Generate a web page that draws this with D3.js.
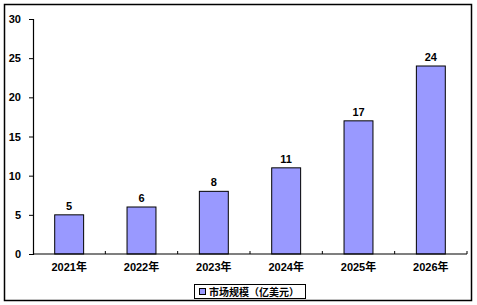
<!DOCTYPE html>
<html><head><meta charset="utf-8">
<script src="https://cdn.jsdelivr.net/npm/d3@7"></script>
<style>body{margin:0;background:#fff}svg{display:block}</style>
</head><body>
<script>
const categories = ["2021年","2022年","2023年","2024年","2025年","2026年"];
const values = [5,6,8,11,17,24];
const yTicks = [0,5,10,15,20,25,30];
const seriesName = "市场规模（亿美元）";

const W=477,H=305;
const svg=d3.select("body").append("svg").attr("width",W).attr("height",H);
svg.append("rect").attr("x",4.5).attr("y",4.5).attr("width",467).attr("height",296)
  .attr("fill","#fff").attr("stroke","#000").attr("stroke-width",1.5);

const x0=33,x1=467,yTop=19,yBot=254;
const x=d3.scaleBand().domain(categories).range([x0,x1]).paddingInner(0.6).paddingOuter(0.3);
const y=d3.scaleLinear().domain([0,30]).range([yBot,yTop]);
const font='"Liberation Sans", Arial, "Noto Sans CJK SC", sans-serif';

// bars
svg.selectAll("rect.bar").data(values).enter().append("rect")
  .attr("x",(d,i)=>x(categories[i])).attr("y",d=>y(d))
  .attr("width",x.bandwidth()).attr("height",d=>y(0)-y(d))
  .attr("fill","#9999FF").attr("stroke","#000").attr("stroke-width",1);

// value labels
svg.selectAll("text.val").data(values).enter().append("text")
  .attr("x",(d,i)=>x(categories[i])+x.bandwidth()/2).attr("y",d=>y(d)-5)
  .attr("text-anchor","middle").attr("font-family",font).attr("font-weight","bold")
  .attr("font-size",11).text(d=>d);

// y axis
const ya=svg.append("g").attr("transform",`translate(${x0},0)`)
  .call(d3.axisLeft(y).tickValues(yTicks).tickSize(4).tickPadding(8));
ya.select(".domain").attr("stroke","#000").attr("stroke-width",1.2);
ya.selectAll(".tick line").attr("stroke","#000");
ya.selectAll("text").attr("font-family",font).attr("font-weight","bold").attr("font-size",11).attr("fill","#000");

// x axis
const xa=svg.append("g").attr("transform",`translate(0,${yBot})`)
  .call(d3.axisBottom(x).tickSize(0).tickPadding(9));
xa.select(".domain").attr("d",`M${x0},0H${x1}`).attr("stroke","#000").attr("stroke-width",1.2);
xa.selectAll("text").attr("font-family",font).attr("font-weight","bold").attr("font-size",11).attr("fill","#000");
// category separator ticks
const step=(x1-x0)/categories.length;
const sep=d3.range(1,categories.length+1).map(i=>x0+i*step);
svg.selectAll("line.sep").data(sep).enter().append("line")
  .attr("x1",d=>d).attr("x2",d=>d).attr("y1",yBot-3).attr("y2",yBot)
  .attr("stroke","#000");

// legend
const lg=svg.append("g");
lg.append("rect").attr("x",194.5).attr("y",284.5).attr("width",111).attr("height",14)
  .attr("fill","#fff").attr("stroke","#000");
lg.append("rect").attr("x",199.5).attr("y",288.5).attr("width",6).attr("height",6)
  .attr("fill","#9999FF").attr("stroke","#000");
lg.append("text").attr("x",209).attr("y",295.5).attr("font-family",font).attr("font-weight","bold")
  .attr("font-size",10).text(seriesName);
</script>
</body></html>
